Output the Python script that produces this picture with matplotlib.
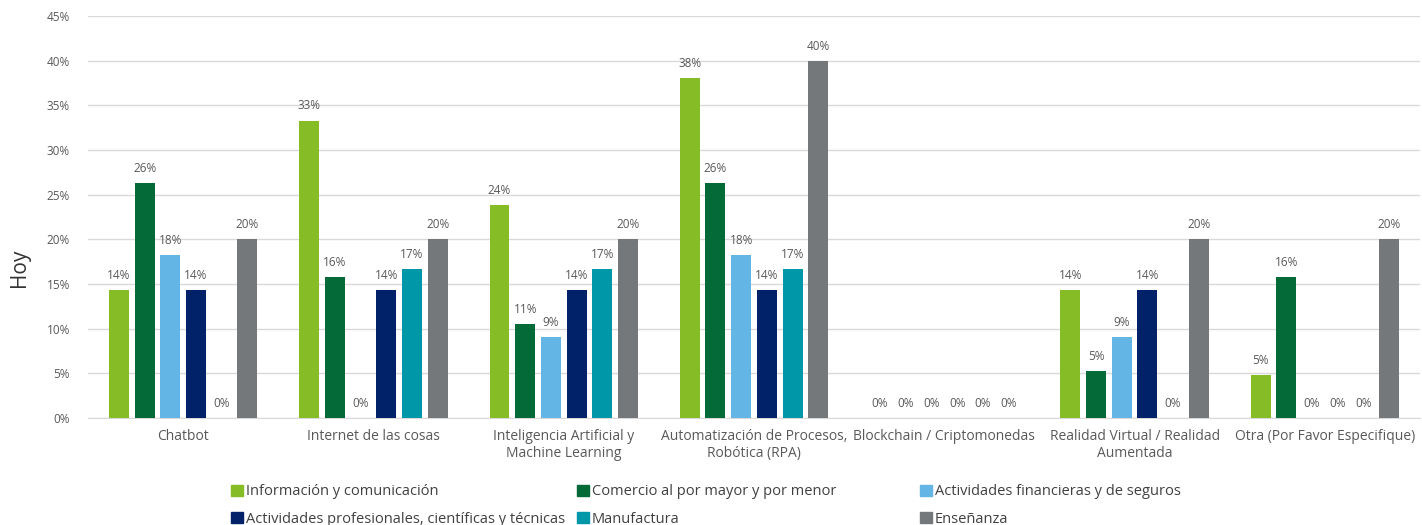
import numpy as np
import matplotlib.pyplot as plt
from matplotlib.patches import Patch

plt.rcParams['font.family'] = ['Open Sans', 'DejaVu Sans']

categorias = ['Chatbot', 'Internet de las cosas', 'Inteligencia Artificial y\nMachine Learning',
              'Automatización de Procesos,\nRobótica (RPA)', 'Blockchain / Criptomonedas',
              'Realidad Virtual / Realidad\nAumentada', 'Otra (Por Favor Especifique)']

sectores = ['Información y comunicación', 'Comercio al por mayor y por menor',
            'Actividades financieras y de seguros',
            'Actividades profesionales, científicas y técnicas', 'Manufactura', 'Enseñanza']

# porcentaje por sector en cada tecnología
informacion = [14.3, 33.3, 23.8, 38.1, 0, 14.3, 4.8]
comercio = [26.3, 15.8, 10.53, 26.3, 0, 5.3, 15.8]
financieras = [18.2, 0, 9.1, 18.2, 0, 9.1, 0]
profesionales = [14.3, 14.3, 14.3, 14.3, 0, 14.3, 0]
manufactura = [0, 16.7, 16.7, 16.7, 0, 0, 0]
ensenanza = [20, 20, 20, 40, 0, 20, 20]

series = [informacion, comercio, financieras, profesionales, manufactura, ensenanza]
colores = ['#86BC25', '#046A38', '#62B5E5', '#012169', '#0097A9', '#75787B']

fig = plt.figure(figsize=(14.22, 5.25), dpi=100)
ax = fig.add_axes([88 / 1422, 107 / 525, 1332 / 1422, 402 / 525])

x = np.arange(len(categorias))
paso = 0.135
ancho = 0.105
for i, (vals, col) in enumerate(zip(series, colores)):
    pos = x + (i - 2.5) * paso
    ax.bar(pos, vals, width=ancho, color=col, zorder=3)
    for p, v in zip(pos, vals):
        ax.text(p, v + 0.9, f'{v:.0f}%', ha='center', va='bottom', fontsize=8.5, color='#595959')

ax.set_ylim(0, 45)
ax.set_xlim(-0.5, len(categorias) - 0.5)
ax.set_yticks(range(0, 46, 5))
ax.set_yticklabels([f'{t}%' for t in range(0, 46, 5)])
ax.yaxis.grid(True, color='#D9D9D9', linewidth=1, zorder=0)
ax.set_xticks(x)
ax.set_xticklabels(categorias, fontsize=10, color='#595959')
ax.tick_params(axis='y', length=0, labelsize=8.5, labelcolor='#595959', pad=13)
ax.tick_params(axis='x', length=0, pad=8)
for s in ['top', 'right', 'left']:
    ax.spines[s].set_visible(False)
ax.spines['bottom'].set_color('#D9D9D9')
fig.text(20 / 1422, 1 - 268 / 525, 'Hoy', rotation=90, ha='center', va='center',
         fontsize=15, color='#333333')

# leyenda en tres columnas
columnas = [(0, 3), (1, 4), (2, 5)]
xs = [224, 570, 913]
for (a, b), xc in zip(columnas, xs):
    handles = [Patch(color=colores[k], label=sectores[k]) for k in (a, b)]
    fig.legend(handles=handles, loc='upper left', bbox_to_anchor=(xc / 1422, 1 - 477 / 525),
               frameon=False, fontsize=10.5, handlelength=0.8, handleheight=0.8,
               handletextpad=0.2, labelspacing=0.85, labelcolor='#404040', borderpad=0)

fig.savefig('out.png', dpi=100)
